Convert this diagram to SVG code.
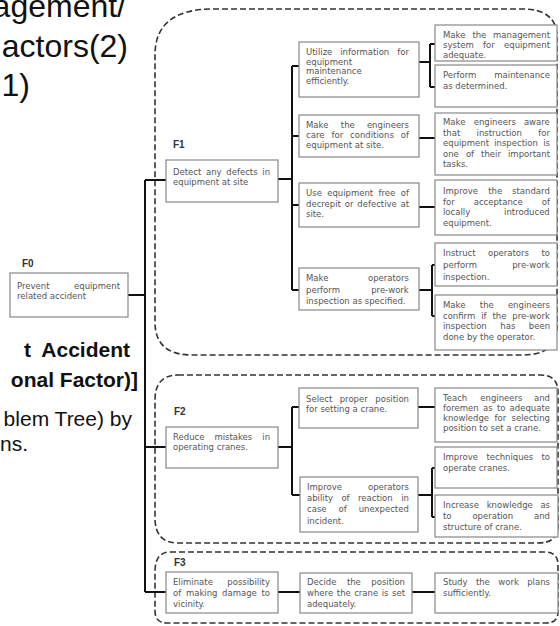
<svg xmlns="http://www.w3.org/2000/svg" width="560" height="626" viewBox="0 0 560 626">
<style>
.t{font-family:"DejaVu Sans",Verdana,sans-serif;font-size:8.5px;fill:#555}
.lbl{font-family:"Liberation Sans",Arial,sans-serif;font-weight:bold;font-size:10px;fill:#333}
.big{font-family:"Liberation Sans",Arial,sans-serif;font-size:32px;fill:#111}
.mid{font-family:"Liberation Sans",Arial,sans-serif;font-size:21px;fill:#111}
.bd{font-family:"Liberation Sans",Arial,sans-serif;font-size:21px;font-weight:bold;fill:#111}
.b{fill:#fff;stroke:#888;stroke-width:1.2}
.c{stroke:#111;stroke-width:2;fill:none}
.d{fill:none;stroke:#333;stroke-width:1.6;stroke-dasharray:6 3}
</style>
<rect width="560" height="626" fill="#fff"/>
<g id="slide-text">
<text class="big" x="126" y="17" text-anchor="end">agement/</text>
<text class="big" x="128" y="57" text-anchor="end">actors(2)</text>
<text class="big" x="30" y="96" text-anchor="end">1)</text>
<text class="bd" x="31" y="357" text-anchor="end">t</text>
<text class="bd" x="130" y="357" text-anchor="end">Accident</text>
<text class="bd" x="138" y="387" text-anchor="end">onal Factor)]</text>
<text class="mid" x="132" y="426" text-anchor="end">blem Tree) by</text>
<text class="mid" x="28" y="451" text-anchor="end">ns.</text>
</g>
<g id="regions">
<path class="d" d="M213,9 L522,9 Q557,9 557,37 L557,328 Q557,355 522,355 L192,355 Q155,355 155,322 L155,55 Q155,9 213,9 Z"/>
<path class="d" d="M178,375 L540,375 Q558,375 558,392 L558,526 Q558,543 538,543 L178,543 Q155,543 155,518 L155,400 Q155,375 178,375 Z"/>
<path class="d" d="M170,552 L545,552 Q558,552 558,565 L558,612 Q558,623 546,623 L167,623 Q155,623 155,611 L155,572 Q155,552 170,552 Z"/>
</g>
<g id="connectors">
<path class="c" d="M145,180 V592 M128,295 H145 M145,180 H166 M145,447 H166 M145,592 H166"/>
<path class="c" d="M278,179 H292 M292,66 V290 M292,66 H299 M292,136 H299 M292,205 H299 M292,290 H299"/>
<path class="c" d="M419,62 H430 M430,44 V87 M430,44 H435 M430,87 H435"/>
<path class="c" d="M419,138 H435 M419,207 H435"/>
<path class="c" d="M419,290 H432 M432,265 V316 M432,265 H435 M432,316 H435"/>
<path class="c" d="M278,447 H292 M292,407 V495 M292,407 H299 M292,495 H300"/>
<path class="c" d="M418,407 H435 M418,495 H432 M432,468 V517 M432,468 H435 M432,517 H435"/>
<path class="c" d="M278,592 H300 M412,592 H435"/>
</g>
<g id="F0">
<text class="lbl" x="22" y="267">F0</text>
<rect class="b" x="10" y="273" width="118" height="44"/>
<text class="t" y="289"><tspan x="17">Prevent</tspan><tspan x="74">equipment</tspan></text>
<text class="t" x="17" y="299">related accident</text>
</g>
<g id="F1">
<text class="lbl" x="173" y="148">F1</text>
<rect class="b" x="166" y="160" width="112" height="42"/>
<text class="t" y="175"><tspan x="173">Detect</tspan><tspan x="206">any</tspan><tspan x="226.3">defects</tspan><tspan x="262.3">in</tspan></text>
<text class="t" x="173" y="185">equipment at site</text>
</g>
<g id="F1-1">
<rect class="b" x="299" y="42" width="120" height="55"/>
<text class="t" y="55"><tspan x="306">Utilize</tspan><tspan x="340.2">information</tspan><tspan x="397.3">for</tspan></text>
<text class="t" x="306" y="64.5">equipment</text>
<text class="t" x="306" y="74">maintenance</text>
<text class="t" x="306" y="83.5">efficiently.</text>
</g>
<g id="F1-1-1">
<rect class="b" x="435" y="25" width="122" height="36"/>
<text class="t" y="38"><tspan x="443">Make</tspan><tspan x="472.4">the</tspan><tspan x="493.1">management</tspan></text>
<text class="t" y="48"><tspan x="443">system</tspan><tspan x="483">for</tspan><tspan x="504">equipment</tspan></text>
<text class="t" x="443" y="58">adequate.</text>
</g>
<g id="F1-1-2">
<rect class="b" x="435" y="65" width="122" height="42"/>
<text class="t" y="78"><tspan x="443">Perform</tspan><tspan x="494.3">maintenance</tspan></text>
<text class="t" x="443" y="89">as determined.</text>
</g>
<g id="F1-2">
<rect class="b" x="299" y="115" width="120" height="42"/>
<text class="t" y="128"><tspan x="306">Make</tspan><tspan x="340.8">the</tspan><tspan x="366.9">engineers</tspan></text>
<text class="t" y="138"><tspan x="306">care</tspan><tspan x="331.5">for</tspan><tspan x="350.1">conditions</tspan><tspan x="400.8">of</tspan></text>
<text class="t" x="306" y="148">equipment at site.</text>
</g>
<g id="F1-2-1">
<rect class="b" x="435" y="113" width="122" height="62"/>
<text class="t" y="125"><tspan x="443">Make</tspan><tspan x="473.7">engineers</tspan><tspan x="523.9">aware</tspan></text>
<text class="t" y="135.5"><tspan x="443">that</tspan><tspan x="476.6">instruction</tspan><tspan x="538.3">for</tspan></text>
<text class="t" y="146"><tspan x="443">equipment</tspan><tspan x="494.2">inspection</tspan><tspan x="543.2">is</tspan></text>
<text class="t" y="156.5"><tspan x="443">one</tspan><tspan x="465.9">of</tspan><tspan x="481.1">their</tspan><tspan x="508">important</tspan></text>
<text class="t" x="443" y="167">tasks.</text>
</g>
<g id="F1-3">
<rect class="b" x="299" y="183" width="120" height="44"/>
<text class="t" y="196"><tspan x="306">Use</tspan><tspan x="327.2">equipment</tspan><tspan x="378.5">free</tspan><tspan x="400.8">of</tspan></text>
<text class="t" y="206.5"><tspan x="306">decrepit</tspan><tspan x="344.8">or</tspan><tspan x="357.3">defective</tspan><tspan x="400.5">at</tspan></text>
<text class="t" x="306" y="217">site.</text>
</g>
<g id="F1-3-1">
<rect class="b" x="435" y="180" width="122" height="55"/>
<text class="t" y="194"><tspan x="443">Improve</tspan><tspan x="488.2">the</tspan><tspan x="512.1">standard</tspan></text>
<text class="t" y="205"><tspan x="443">for</tspan><tspan x="473.7">acceptance</tspan><tspan x="541.8">of</tspan></text>
<text class="t" y="215"><tspan x="443">locally</tspan><tspan x="504.1">introduced</tspan></text>
<text class="t" x="443" y="226">equipment.</text>
</g>
<g id="F1-4">
<rect class="b" x="299" y="268" width="120" height="42"/>
<text class="t" y="281"><tspan x="306">Make</tspan><tspan x="368">operators</tspan></text>
<text class="t" y="292.5"><tspan x="306">perform</tspan><tspan x="371.2">pre-work</tspan></text>
<text class="t" x="306" y="304">inspection as specified.</text>
</g>
<g id="F1-4-1">
<rect class="b" x="435" y="243" width="122" height="43"/>
<text class="t" y="256"><tspan x="443">Instruct</tspan><tspan x="488">operators</tspan><tspan x="541.5">to</tspan></text>
<text class="t" y="268"><tspan x="443">perform</tspan><tspan x="512.2">pre-work</tspan></text>
<text class="t" x="443" y="280">inspection.</text>
</g>
<g id="F1-4-2">
<rect class="b" x="435" y="295" width="122" height="55"/>
<text class="t" y="308"><tspan x="443">Make</tspan><tspan x="479.8">the</tspan><tspan x="507.9">engineers</tspan></text>
<text class="t" y="318.5"><tspan x="443">confirm</tspan><tspan x="481.2">if</tspan><tspan x="492.5">the</tspan><tspan x="512.3">pre-work</tspan></text>
<text class="t" y="329"><tspan x="443">inspection</tspan><tspan x="500.3">has</tspan><tspan x="528.8">been</tspan></text>
<text class="t" x="443" y="339.5">done by the operator.</text>
</g>
<g id="F2">
<text class="lbl" x="174" y="415">F2</text>
<rect class="b" x="166" y="427" width="112" height="41"/>
<text class="t" y="440"><tspan x="173">Reduce</tspan><tspan x="214.4">mistakes</tspan><tspan x="262.3">in</tspan></text>
<text class="t" x="173" y="450">operating cranes.</text>
</g>
<g id="F2-1">
<rect class="b" x="299" y="388" width="119" height="40"/>
<text class="t" y="402"><tspan x="306">Select</tspan><tspan x="339.7">proper</tspan><tspan x="375.3">position</tspan></text>
<text class="t" x="306" y="412">for setting a crane.</text>
</g>
<g id="F2-1-1">
<rect class="b" x="435" y="388" width="122" height="54"/>
<text class="t" y="401"><tspan x="443">Teach</tspan><tspan x="480.3">engineers</tspan><tspan x="534">and</tspan></text>
<text class="t" y="411"><tspan x="443">foremen</tspan><tspan x="483">as</tspan><tspan x="496.9">to</tspan><tspan x="509.6">adequate</tspan></text>
<text class="t" y="421"><tspan x="443">knowledge</tspan><tspan x="494.5">for</tspan><tspan x="511.6">selecting</tspan></text>
<text class="t" x="443" y="431">position to set a crane.</text>
</g>
<g id="F2-2">
<rect class="b" x="300" y="477" width="118" height="55"/>
<text class="t" y="490"><tspan x="307">Improve</tspan><tspan x="368">operators</tspan></text>
<text class="t" y="501"><tspan x="307">ability</tspan><tspan x="341.4">of</tspan><tspan x="358">reaction</tspan><tspan x="401.2">in</tspan></text>
<text class="t" y="512"><tspan x="307">case</tspan><tspan x="338.5">of</tspan><tspan x="358.7">unexpected</tspan></text>
<text class="t" x="307" y="524">incident.</text>
</g>
<g id="F2-2-1">
<rect class="b" x="435" y="447" width="122" height="41"/>
<text class="t" y="460"><tspan x="443">Improve</tspan><tspan x="486.4">techniques</tspan><tspan x="541.5">to</tspan></text>
<text class="t" x="443" y="471">operate cranes.</text>
</g>
<g id="F2-2-2">
<rect class="b" x="435" y="495" width="123" height="42"/>
<text class="t" y="508"><tspan x="443">Increase</tspan><tspan x="486.7">knowledge</tspan><tspan x="540.4">as</tspan></text>
<text class="t" y="519"><tspan x="443">to</tspan><tspan x="472.4">operation</tspan><tspan x="534">and</tspan></text>
<text class="t" x="443" y="530">structure of crane.</text>
</g>
<g id="F3">
<text class="lbl" x="174" y="566">F3</text>
<rect class="b" x="166" y="572" width="112" height="41"/>
<text class="t" y="585"><tspan x="173">Eliminate</tspan><tspan x="227.3">possibility</tspan></text>
<text class="t" y="596"><tspan x="173">of</tspan><tspan x="185.9">making</tspan><tspan x="222.1">damage</tspan><tspan x="261.5">to</tspan></text>
<text class="t" x="173" y="607">vicinity.</text>
</g>
<g id="F3-1">
<rect class="b" x="300" y="573" width="112" height="40"/>
<text class="t" y="585"><tspan x="307">Decide</tspan><tspan x="346.9">the</tspan><tspan x="371.3">position</tspan></text>
<text class="t" y="596"><tspan x="307">where</tspan><tspan x="336.8">the</tspan><tspan x="354.2">crane</tspan><tspan x="381.7">is</tspan><tspan x="392">set</tspan></text>
<text class="t" x="307" y="607">adequately.</text>
</g>
<g id="F3-1-1">
<rect class="b" x="435" y="573" width="123" height="40"/>
<text class="t" y="585"><tspan x="443">Study</tspan><tspan x="475.9">the</tspan><tspan x="498.3">work</tspan><tspan x="527.2">plans</tspan></text>
<text class="t" x="443" y="596">sufficiently.</text>
</g>
</svg>
